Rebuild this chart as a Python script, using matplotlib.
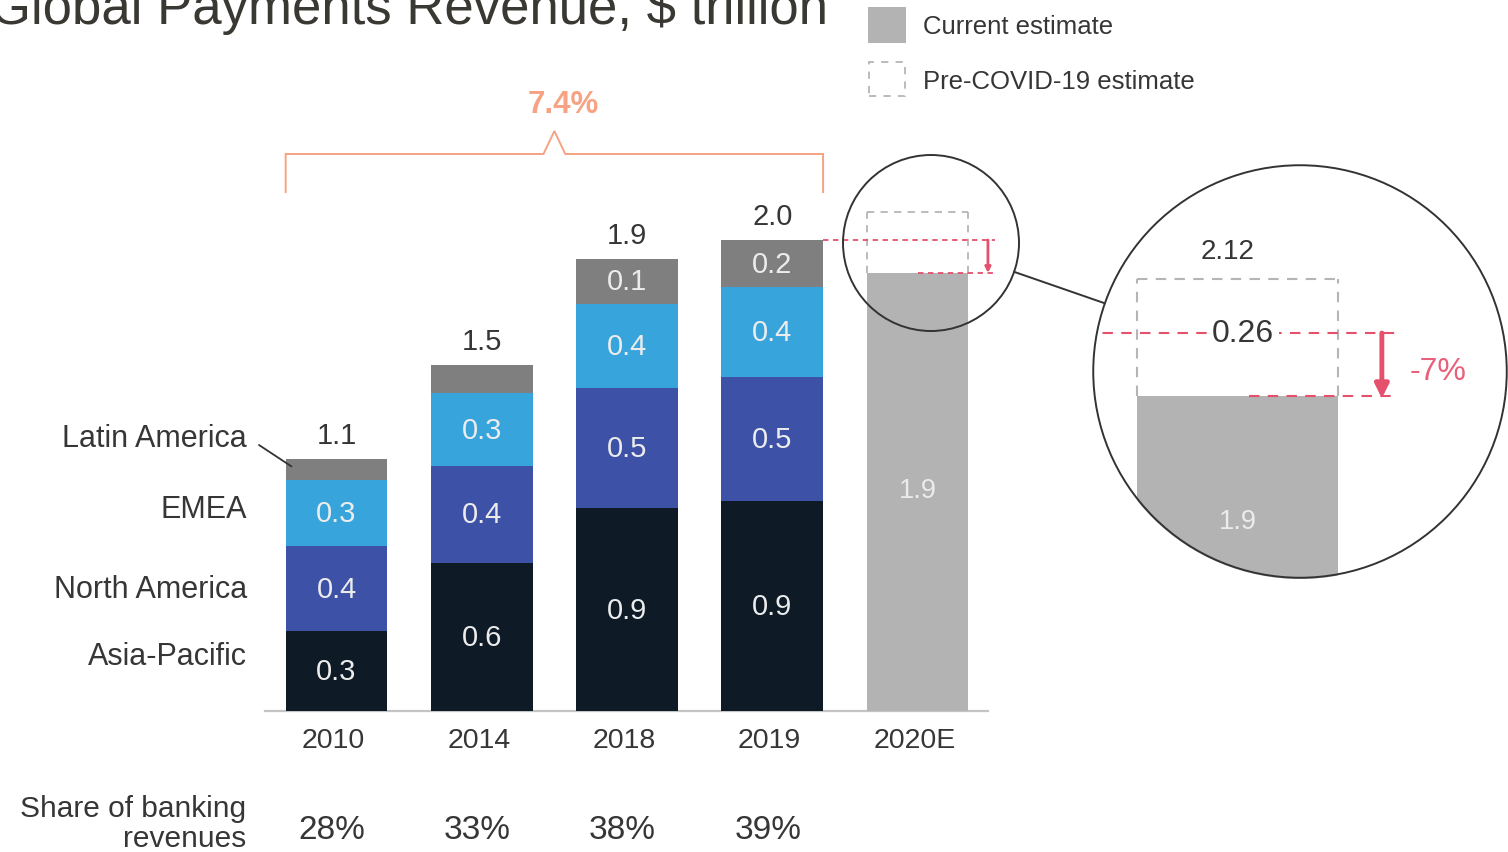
import matplotlib
matplotlib.use('Agg')
import matplotlib.pyplot as plt
from matplotlib.patches import Ellipse, Circle, Rectangle
from matplotlib.lines import Line2D
import numpy as np

plt.rcParams['font.family'] = ['Liberation Sans', 'DejaVu Sans']

# ---------------- data ----------------
years = ['2010', '2014', '2018', '2019', '2020E']
regions = ['Asia-Pacific', 'North America', 'EMEA', 'Latin America']
asia_pacific = [0.34, 0.63, 0.86, 0.89]
north_america = [0.36, 0.41, 0.51, 0.53]
emea = [0.28, 0.31, 0.36, 0.38]
latin_america = [0.09, 0.12, 0.19, 0.20]
ap_labels = ['0.3', '0.6', '0.9', '0.9']
na_labels = ['0.4', '0.4', '0.5', '0.5']
emea_labels = ['0.3', '0.3', '0.4', '0.4']
la_labels = ['', '', '0.1', '0.2']
total_labels = ['1.1', '1.5', '1.9', '2.0']
current_2020 = 1.86
precovid_2020 = 2.12
current_2020_label = '1.9'
precovid_label = '2.12'
gap_label = '0.26'
change_label = '-7%'
cagr_label = '7.4%'
share_labels = ['28%', '33%', '38%', '39%']
legend_labels = ['Current estimate', 'Pre-COVID-19 estimate']

# ---------------- style ----------------
C_AP = '#0e1b27'
C_NA = '#3d52a6'
C_EMEA = '#38a4dc'
C_LA = '#7f7f7f'
C_CUR = '#b3b3b3'
C_DASH = '#b5b5b5'
C_RED = '#e5506d'
C_SALMON = '#f6a283'
C_TXT = '#363636'
C_IN = '#ececec'

W, H = 1508, 853
fig = plt.figure(figsize=(W / 100, H / 100), dpi=100)
fig.patch.set_facecolor('white')

X_PX0, X_SCALE, Y_PX0, Y_SCALE = 336.5, 145.25, 712.0, 235.5
def px2x(px):
    return (px - X_PX0) / X_SCALE
def py2y(py):
    return (Y_PX0 - py) / Y_SCALE

ax = fig.add_axes([0, 0, 1, 1])
ax.set_axis_off()

x = np.arange(len(years))
bw = 0.70
xb = x[:4]
series = [asia_pacific, north_america, emea, latin_america]
colors = [C_AP, C_NA, C_EMEA, C_LA]
labels = [ap_labels, na_labels, emea_labels, la_labels]
bottom = np.zeros(4)
for vals, col, labs in zip(series, colors, labels):
    vals = np.array(vals)
    ax.bar(xb, vals, bw, bottom=bottom, color=col, linewidth=0, zorder=2)
    for xi, b, v, lab in zip(xb, bottom, vals, labs):
        if lab:
            ax.text(xi, b + v / 2, lab, ha='center', va='center',
                    color=C_IN, fontsize=21, zorder=3)
    bottom = bottom + vals
totals = bottom

for xi, t, lab in zip(xb, totals, total_labels):
    ax.text(xi, t + 0.103, lab, ha='center', va='center', color=C_TXT, fontsize=21)

# 2020E bar
ax.bar(x[4], current_2020, bw, color=C_CUR, linewidth=0, zorder=2)
ax.text(x[4], current_2020 * 0.5 + 0.01, current_2020_label, ha='center', va='center',
        color=C_IN, fontsize=19.5, zorder=3)
# pre-covid dashed box
dash_kw = dict(color=C_DASH, lw=1.3, linestyle=(0, (4, 3.5)), zorder=3)
ax.plot([x[4] - bw / 2, x[4] - bw / 2], [current_2020, precovid_2020], **dash_kw)
ax.plot([x[4] + bw / 2, x[4] + bw / 2], [current_2020, precovid_2020], **dash_kw)
ax.plot([x[4] - bw / 2, x[4] + bw / 2], [precovid_2020, precovid_2020], **dash_kw)

# red reference lines
red_kw = dict(color=C_RED, lw=1.3, linestyle=(0, (3, 2.5)), zorder=4)
ax.plot([x[3] + bw / 2, x[4] + 0.535], [totals[3], totals[3]], **red_kw)
ax.plot([x[4], x[4] + 0.535], [current_2020, current_2020], **red_kw)
ax.annotate('', xy=(x[4] + 0.485, current_2020), xytext=(x[4] + 0.485, totals[3]),
            arrowprops=dict(arrowstyle='-|>', color=C_RED, lw=2, mutation_scale=8,
                            shrinkA=0, shrinkB=0), zorder=5)

# small magnifier circle
ax.add_patch(Ellipse((px2x(931), py2y(244)), 2 * 88 / X_SCALE, 2 * 88 / Y_SCALE,
                     fill=False, edgecolor='#333333', lw=1.4, zorder=6))

# baseline
ax.plot([px2x(265), px2x(988)], [0, 0], color='#c4c4c4', lw=1.6, zorder=1)

# year labels
for xi, yl in zip(x, years):
    ax.text(xi - 0.02, py2y(741), yl, ha='center', va='center', color=C_TXT,
            fontsize=20.5)

# share of banking revenues
for xi, s in zip(xb, share_labels):
    ax.text(xi - 0.03, py2y(831), s, ha='center', va='center', color=C_TXT,
            fontsize=24)
ax.text(px2x(246), py2y(824), 'Share of banking\nrevenues', ha='right', va='center',
        multialignment='right', color=C_TXT, fontsize=21.5, linespacing=1.1)

# region labels
region_py = {'Latin America': 439, 'EMEA': 510, 'North America': 590, 'Asia-Pacific': 657}
for r in regions:
    ax.text(px2x(247), py2y(region_py[r]), r, ha='right', va='center', color=C_TXT,
            fontsize=22)
la_mid = totals[0] - latin_america[0] * 0.35
ax.annotate('', xy=(x[0] - bw / 2 + 0.04, la_mid), xytext=(px2x(259), py2y(446)),
            arrowprops=dict(arrowstyle='-', color='#333333', lw=1.3,
                            shrinkA=0, shrinkB=0), zorder=5)

# CAGR bracket
bl, br = x[0] - bw / 2, x[3] + bw / 2
bm = (bl + br) / 2
yb0, yb1, ypk = py2y(193), py2y(155), py2y(132)
hw = 0.075
ax.plot([bl, bl, bm - hw, bm, bm + hw, br, br],
        [yb0, yb1, yb1, ypk, yb1, yb1, yb0], color=C_SALMON, lw=1.4,
        solid_joinstyle='miter')
ax.text(bm + 0.06, py2y(105), cagr_label, ha='center', va='center', color=C_SALMON,
        fontsize=22.5, fontweight='bold')

ax.set_xlim(px2x(0), px2x(W))
ax.set_ylim(py2y(H), py2y(0))

# title
fig.text(828 / W, 1 - 24 / H, 'Global Payments Revenue, $ trillion', ha='right',
         va='baseline', color='#3a3833', fontsize=38)

# legend (drawn manually in figure pixels)
fig.add_artist(Rectangle((868 / W, 1 - 44 / H), 38 / W, 36 / H, transform=fig.transFigure,
                         facecolor=C_CUR, edgecolor='none'))
fig.add_artist(Rectangle((869 / W, 1 - 97 / H), 36 / W, 34 / H, transform=fig.transFigure,
                         facecolor='none', edgecolor=C_DASH, lw=1.3,
                         linestyle=(0, (4, 4))))
fig.text(923 / W, 1 - 27 / H, legend_labels[0], ha='left', va='center', color=C_TXT,
         fontsize=18.5)
fig.text(923 / W, 1 - 82 / H, legend_labels[1], ha='left', va='center', color=C_TXT,
         fontsize=18.5)

# ---------------- magnified inset ----------------
axin = fig.add_axes([1092 / W, (H - 580) / H, 416 / W, 415 / H])
axin.set_axis_off()
axin.patch.set_alpha(0)
IX0, IXS, IY0, IYS = 1237.5, 287.0, 397.0, 450.0
axin.set_xlim((1092 - IX0) / IXS, (1508 - IX0) / IXS)
axin.set_ylim(current_2020 - (580 - IY0) / IYS, current_2020 + (IY0 - 165) / IYS)

clip = Circle((0.5, 0.5), 0.5, transform=axin.transAxes, facecolor='white',
              edgecolor='none', zorder=0)
axin.add_patch(clip)
arts = []
arts += list(axin.bar(0, current_2020, bw, color=C_CUR, linewidth=0, zorder=2))
dk = dict(color=C_DASH, lw=1.5, linestyle=(0, (5, 4)), zorder=3)
arts += axin.plot([-bw / 2, -bw / 2], [current_2020, precovid_2020], **dk)
arts += axin.plot([bw / 2, bw / 2], [current_2020, precovid_2020], **dk)
arts += axin.plot([-bw / 2, bw / 2], [precovid_2020, precovid_2020], **dk)
rk = dict(color=C_RED, lw=1.5, linestyle=(0, (5, 4)), zorder=4)
arts += axin.plot([-0.6, 0.55], [totals[3], totals[3]], **rk)
arts += axin.plot([0.04, 0.55], [current_2020, current_2020], **rk)
for a in arts:
    a.set_clip_path(clip)
axin.annotate('', xy=(0.503, current_2020 - 0.005), xytext=(0.503, totals[3]),
              arrowprops=dict(arrowstyle='-|>', color=C_RED, lw=3.5, mutation_scale=20,
                              shrinkA=0, shrinkB=0), zorder=5)
axin.text(0.02, totals[3], gap_label, ha='center', va='center', color=C_TXT,
          fontsize=23, zorder=6,
          bbox=dict(boxstyle='square,pad=0.15', facecolor='white', edgecolor='none'))
axin.text(-0.033, precovid_2020 + 0.062, precovid_label, ha='center', va='center',
          color=C_TXT, fontsize=20)
axin.text(0.70, current_2020 + 25 / IYS, change_label, ha='center', va='center',
          color='#e8607a', fontsize=23)
axin.text(0.0, current_2020 - 125 / IYS, current_2020_label, ha='center', va='center',
          color=C_IN, fontsize=19.5, zorder=3)
axin.add_patch(Circle((0.5, 0.5), 0.497, transform=axin.transAxes, fill=False,
                      edgecolor='#333333', lw=1.4, zorder=10, clip_on=False))

# connector between circles
c1, r1 = np.array([931.0, 244.0]), 88.0
c2, r2 = np.array([1300.0, 372.0]), 207.0
d = (c2 - c1) / np.linalg.norm(c2 - c1)
p1, p2 = c1 + d * r1, c2 - d * r2
fig.add_artist(Line2D([p1[0] / W, p2[0] / W], [1 - p1[1] / H, 1 - p2[1] / H],
                      transform=fig.transFigure, color='#333333', lw=1.4))

fig.savefig('out.png', dpi=100, facecolor='white')
